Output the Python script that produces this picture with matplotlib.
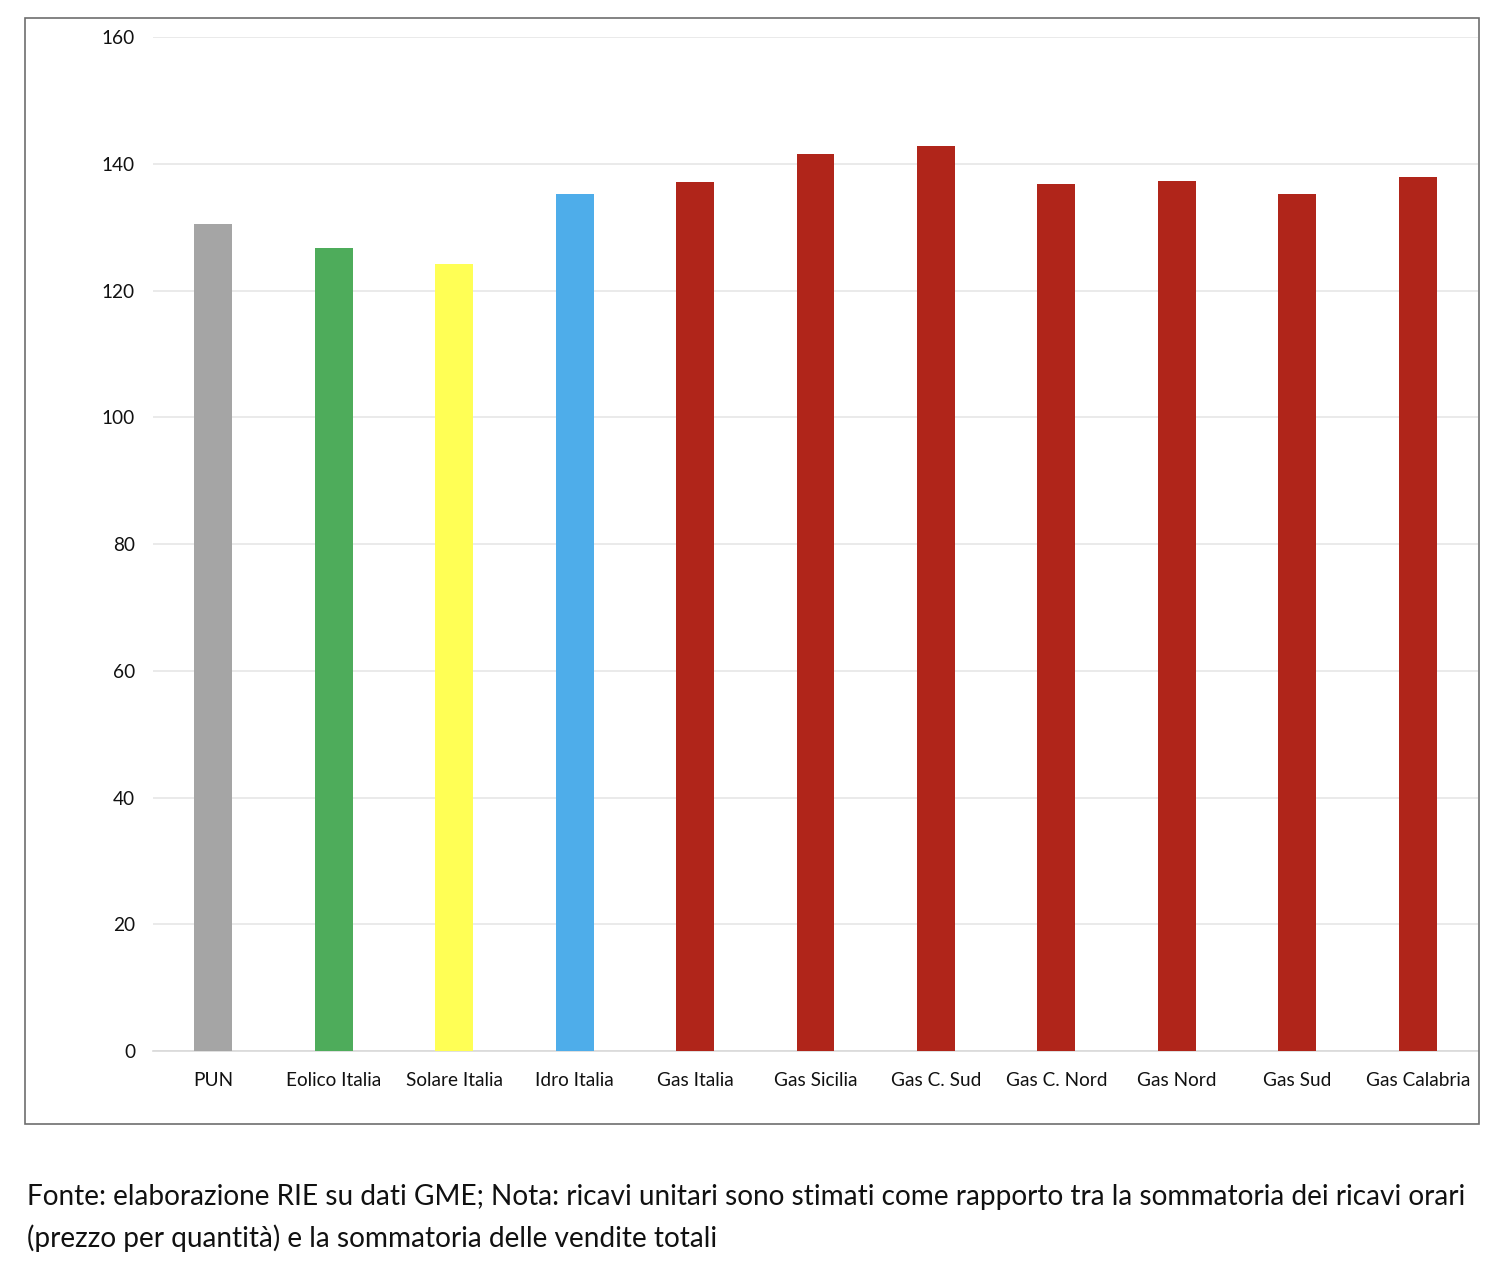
import matplotlib.pyplot as plt
from matplotlib.patches import Rectangle

# categories and values (EUR/MWh)
categories = ['PUN', 'Eolico Italia', 'Solare Italia', 'Idro Italia', 'Gas Italia',
              'Gas Sicilia', 'Gas C. Sud', 'Gas C. Nord', 'Gas Nord', 'Gas Sud', 'Gas Calabria']
values = [130.5, 126.7, 124.2, 135.2, 137.1, 141.5, 142.8, 136.8, 137.3, 135.2, 137.9]
colors = ['#a5a5a5', '#4eac5b', '#ffff55', '#4eadea'] + ['#b0251a'] * 7
yticks = [0, 20, 40, 60, 80, 100, 120, 140, 160]

note = ("Fonte: elaborazione RIE su dati GME; Nota: ricavi unitari sono stimati come rapporto tra la sommatoria dei ricavi orari\n"
        "(prezzo per quantità) e la sommatoria delle vendite totali")

plt.rcParams['font.family'] = ['Lato', 'DejaVu Sans']

fig = plt.figure(figsize=(15.08, 12.72), dpi=100)
fig.patch.set_facecolor('white')

# outer chart frame
frame = Rectangle((0.0166, 0.1164), 0.9642, 0.8694, transform=fig.transFigure,
                  fill=False, edgecolor='#6e6e6e', linewidth=1.2)
fig.add_artist(frame)

ax = fig.add_axes([0.1015, 0.1737, 0.8786, 0.7972])
x = range(len(categories))
ax.bar(x, values, width=0.315, color=colors, zorder=3)

ax.set_xlim(-0.5, len(categories) - 0.5)
ax.set_ylim(0, 160)
ax.set_yticks(yticks)
ax.set_xticks(list(x))
ax.set_xticklabels(categories, fontsize=13.7, color='#111111')
ax.tick_params(axis='y', labelsize=13.7, labelcolor='#111111', length=0, pad=13)
ax.tick_params(axis='x', length=0, pad=15)
ax.yaxis.grid(True, color='#e6e6e6', linewidth=1.2, zorder=0)
for s in ['top', 'right', 'left']:
    ax.spines[s].set_visible(False)
ax.spines['bottom'].set_color('#d9d9d9')
ax.spines['bottom'].set_linewidth(1.2)

fig.text(0.018, 0.069, note, fontsize=20.2, color='#111111', ha='left', va='top',
         linespacing=1.62)

fig.savefig('out.png', dpi=100)
